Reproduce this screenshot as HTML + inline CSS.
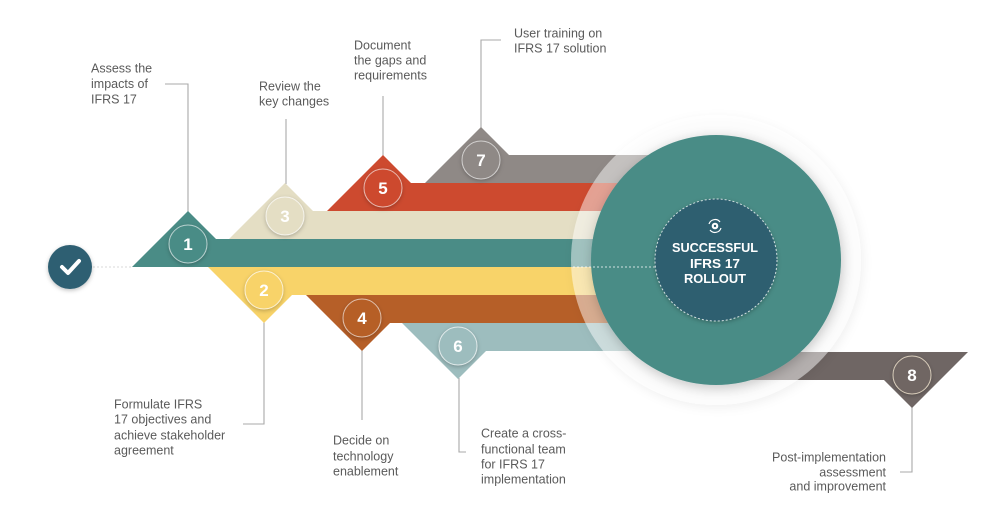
<!DOCTYPE html>
<html><head><meta charset="utf-8"><style>
html,body{margin:0;padding:0;background:#fff;}
svg{display:block;}
.lbl{font-family:"Liberation Sans",sans-serif;font-size:12.5px;fill:#5a5a5a;}
.num{font-family:"Liberation Sans",sans-serif;font-size:17px;font-weight:bold;fill:#fff;text-anchor:middle;}
.ctr{font-family:"Liberation Sans",sans-serif;font-size:13px;font-weight:bold;fill:#fff;text-anchor:middle;}
.con{stroke:#a8a8a8;stroke-width:1.1;fill:none;}
</style></head><body>
<svg width="1000" height="521" viewBox="0 0 1000 521" xmlns="http://www.w3.org/2000/svg">
<defs>
<filter id="sh" x="-50%" y="-50%" width="200%" height="200%"><feDropShadow dx="0" dy="1.5" stdDeviation="2" flood-color="#000" flood-opacity="0.25"/></filter>
<filter id="shb" x="-20%" y="-20%" width="140%" height="140%"><feDropShadow dx="1" dy="3" stdDeviation="6" flood-color="#000" flood-opacity="0.22"/></filter>
<filter id="shr" x="-20%" y="-20%" width="140%" height="140%"><feDropShadow dx="2" dy="3" stdDeviation="5" flood-color="#000" flood-opacity="0.12"/></filter>
</defs>
<rect width="1000" height="521" fill="#fff"/>

<!-- connectors -->
<polyline class="con" points="165,84 188,84 188,212"/>
<line class="con" x1="286" y1="119" x2="286" y2="184"/>
<line class="con" x1="383" y1="96" x2="383" y2="156"/>
<polyline class="con" points="501,40 481,40 481,128"/>
<polyline class="con" points="264,322 264,424 243,424"/>
<line class="con" x1="362" y1="350" x2="362" y2="420"/>
<polyline class="con" points="459,378 459,452 466,452"/>
<polyline class="con" points="912,406 912,472 900,472"/>

<!-- dotted line from check -->
<line x1="93" y1="267" x2="132" y2="267" stroke="#d8d8d8" stroke-width="1" stroke-dasharray="2,2"/>

<!-- bands -->
<polygon fill="#8f8986" points="425,183 481,127 509,155 720,155 720,183"/>
<polygon fill="#cd4a2f" points="327,211 383,155 411,183 720,183 720,211"/>
<polygon fill="#e4dec4" points="229,239 285,183 313,211 720,211 720,239"/>
<polygon fill="#4a8c86" points="132,267 188,211 216,239 720,239 720,267"/>
<polygon fill="#f8d369" points="208,267 720,267 720,295 292,295 264,323"/>
<polygon fill="#b65f28" points="306,295 720,295 720,323 390,323 362,351"/>
<polygon fill="#9dbdbe" points="402,323 720,323 720,351 486,351 458,379"/>
<polygon fill="#6f6664" points="700,352 968,352 912,408 884,380 700,380"/>

<!-- ring and circles -->
<circle cx="716" cy="260" r="145" fill="rgba(255,255,255,0.47)" filter="url(#shr)"/>
<circle cx="716" cy="260" r="125" fill="#4a8c86" filter="url(#shb)"/>
<line x1="573" y1="267" x2="656" y2="267" stroke="#fff" stroke-opacity="0.75" stroke-width="1" stroke-dasharray="2,2"/>
<circle cx="716" cy="260" r="61" fill="#2e5e6f" stroke="#fff" stroke-opacity="0.75" stroke-width="1" stroke-dasharray="2,2" filter="url(#sh)"/>
<!-- icon -->
<g transform="translate(715,226)">
<path d="M-6,-2 A6.3,6.3 0 0 1 5,-4" stroke="#fff" stroke-width="1.2" fill="none"/>
<path d="M6,2 A6.3,6.3 0 0 1 -5,4" stroke="#fff" stroke-width="1.2" fill="none"/>
<circle cx="0" cy="0" r="3.3" fill="#fff"/>
<circle cx="0" cy="0" r="1.2" fill="#2e5e6f"/>
</g>
<text class="ctr" x="715" y="252" textLength="86" lengthAdjust="spacingAndGlyphs">SUCCESSFUL</text>
<text class="ctr" x="715" y="268" textLength="50" lengthAdjust="spacingAndGlyphs">IFRS 17</text>
<text class="ctr" x="715" y="283" textLength="62" lengthAdjust="spacingAndGlyphs">ROLLOUT</text>

<!-- badges -->
<g filter="url(#sh)">
<circle cx="188" cy="244" r="19" fill="#4a8c86" stroke="#fff" stroke-opacity="0.6"/>
<circle cx="285" cy="216" r="19" fill="#e4dec4" stroke="#fff" stroke-opacity="0.7"/>
<circle cx="383" cy="188" r="19" fill="#cd4a2f" stroke="#fff" stroke-opacity="0.6"/>
<circle cx="481" cy="160" r="19" fill="#8f8986" stroke="#fff" stroke-opacity="0.6"/>
<circle cx="264" cy="290" r="19" fill="#f8d369" stroke="#fff" stroke-opacity="0.7"/>
<circle cx="362" cy="318" r="19" fill="#b65f28" stroke="#fff" stroke-opacity="0.6"/>
<circle cx="458" cy="346" r="19" fill="#9dbdbe" stroke="#fff" stroke-opacity="0.7"/>
<circle cx="912" cy="375" r="19" fill="#6f6664" stroke="#f3e6d0" stroke-opacity="0.8"/>
</g>
<text class="num" x="188" y="250">1</text>
<text class="num" x="285" y="222">3</text>
<text class="num" x="383" y="194">5</text>
<text class="num" x="481" y="166">7</text>
<text class="num" x="264" y="296">2</text>
<text class="num" x="362" y="324">4</text>
<text class="num" x="458" y="352">6</text>
<text class="num" x="912" y="381">8</text>

<!-- check -->
<circle cx="70" cy="267" r="22" fill="#2f5f72" filter="url(#sh)"/>
<polyline points="62,267 68,273 79,261" stroke="#fff" stroke-width="4" fill="none" stroke-linecap="round" stroke-linejoin="round"/>

<!-- labels -->
<text class="lbl" x="91" y="72.5">Assess the</text>
<text class="lbl" x="91" y="88">impacts of</text>
<text class="lbl" x="91" y="103.5">IFRS 17</text>

<text class="lbl" x="259" y="90.5">Review the</text>
<text class="lbl" x="259" y="105.5">key changes</text>

<text class="lbl" x="354" y="49.5">Document</text>
<text class="lbl" x="354" y="64.5">the gaps and</text>
<text class="lbl" x="354" y="79.5">requirements</text>

<text class="lbl" x="514" y="37.5">User training on</text>
<text class="lbl" x="514" y="52.5">IFRS 17 solution</text>

<text class="lbl" x="114" y="408.5">Formulate IFRS</text>
<text class="lbl" x="114" y="423.5">17 objectives and</text>
<text class="lbl" x="114" y="439.5">achieve stakeholder</text>
<text class="lbl" x="114" y="454.5">agreement</text>

<text class="lbl" x="333" y="444.5">Decide on</text>
<text class="lbl" x="333" y="460.5">technology</text>
<text class="lbl" x="333" y="475.5">enablement</text>

<text class="lbl" x="481" y="437.5">Create a cross-</text>
<text class="lbl" x="481" y="453.5">functional team</text>
<text class="lbl" x="481" y="468.5">for IFRS 17</text>
<text class="lbl" x="481" y="483.5">implementation</text>

<text class="lbl" x="886" y="461.5" text-anchor="end">Post-implementation</text>
<text class="lbl" x="886" y="476.5" text-anchor="end">assessment</text>
<text class="lbl" x="886" y="490.5" text-anchor="end">and improvement</text>
</svg>
</body></html>
